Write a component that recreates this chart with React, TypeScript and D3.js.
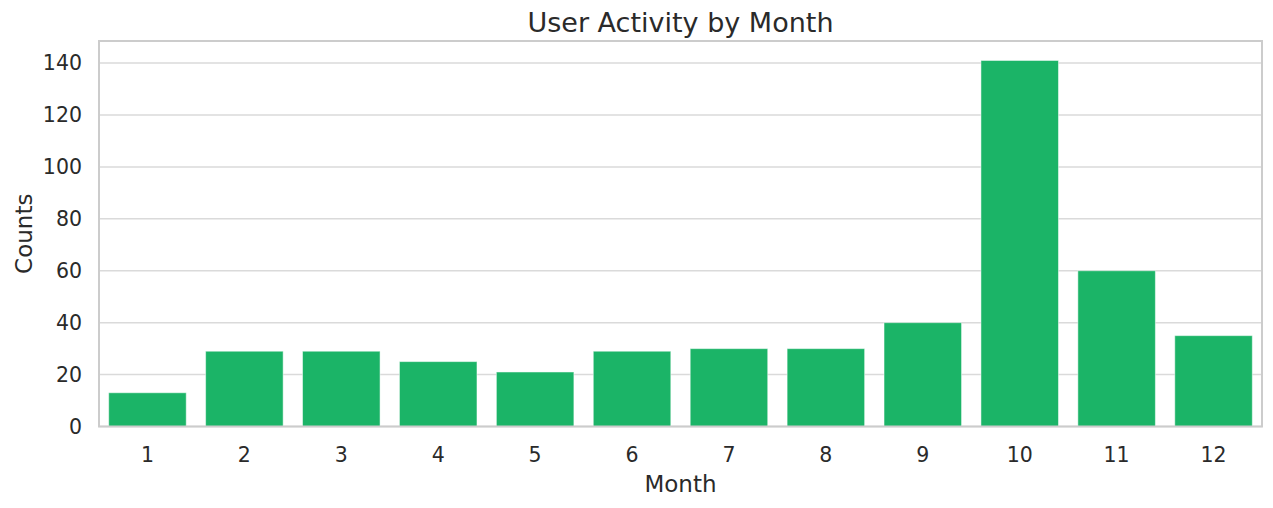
import React, { useEffect, useRef } from "react";
import * as d3 from "d3";

const months: string[] = ["1", "2", "3", "4", "5", "6", "7", "8", "9", "10", "11", "12"];
const counts: number[] = [13, 29, 29, 25, 21, 29, 30, 30, 40, 141, 60, 35];
const yTicks: number[] = [0, 20, 40, 60, 80, 100, 120, 140];

const App: React.FC = () => {
  const svgRef = useRef<SVGSVGElement>(null);

  useEffect(() => {
    const width = 1273;
    const height = 508;
    const margin = { top: 41, right: 11, bottom: 81.5, left: 99 };
    const innerW = width - margin.left - margin.right;
    const innerH = height - margin.top - margin.bottom;
    const font = "DejaVu Sans, sans-serif";
    const textColor = "#2a2a2a";

    const svg = d3.select(svgRef.current);
    svg.selectAll("*").remove();

    const g = svg
      .append("g")
      .attr("transform", `translate(${margin.left},${margin.top})`);

    // each month gets a full slot, bar is 80% of it
    const x = d3
      .scaleBand()
      .domain(months)
      .range([0, innerW])
      .paddingInner(0.2)
      .paddingOuter(0.1);
    const y = d3.scaleLinear().domain([0, 148.5]).range([innerH, 0]);

    // horizontal grid
    g.selectAll("line.grid")
      .data(yTicks)
      .enter()
      .append("line")
      .attr("class", "grid")
      .attr("x1", 0)
      .attr("x2", innerW)
      .attr("y1", (d) => y(d))
      .attr("y2", (d) => y(d))
      .attr("stroke", "#dadada")
      .attr("stroke-width", 1.5);

    // bars
    g.selectAll("rect.bar")
      .data(counts)
      .enter()
      .append("rect")
      .attr("class", "bar")
      .attr("x", (_, i) => x(months[i])!)
      .attr("y", (d) => y(d))
      .attr("width", x.bandwidth())
      .attr("height", (d) => innerH - y(d))
      .attr("fill", "#1bb467")
      .attr("stroke", "#ffffff")
      .attr("stroke-opacity", 0.5)
      .attr("stroke-width", 1);

    // frame
    g.append("rect")
      .attr("x", 0)
      .attr("y", 0)
      .attr("width", innerW)
      .attr("height", innerH)
      .attr("fill", "none")
      .attr("stroke", "#cccccc")
      .attr("stroke-width", 2);

    // y tick labels
    g.selectAll("text.ytick")
      .data(yTicks)
      .enter()
      .append("text")
      .attr("class", "ytick")
      .attr("x", -17)
      .attr("y", (d) => y(d))
      .attr("dy", "0.36em")
      .attr("text-anchor", "end")
      .attr("font-family", font)
      .attr("font-size", 20.5)
      .attr("fill", textColor)
      .text((d) => d);

    // x tick labels
    g.selectAll("text.xtick")
      .data(months)
      .enter()
      .append("text")
      .attr("class", "xtick")
      .attr("x", (d) => x(d)! + x.bandwidth() / 2)
      .attr("y", innerH + 35.8)
      .attr("text-anchor", "middle")
      .attr("font-family", font)
      .attr("font-size", 20.5)
      .attr("fill", textColor)
      .text((d) => d);

    // axis titles
    svg
      .append("text")
      .attr("x", margin.left + innerW / 2)
      .attr("y", 491.5)
      .attr("text-anchor", "middle")
      .attr("font-family", font)
      .attr("font-size", 23)
      .attr("fill", textColor)
      .text("Month");

    svg
      .append("text")
      .attr("transform", `translate(31.5,${margin.top + innerH / 2}) rotate(-90)`)
      .attr("text-anchor", "middle")
      .attr("font-family", font)
      .attr("font-size", 23)
      .attr("fill", textColor)
      .text("Counts");

    svg
      .append("text")
      .attr("x", margin.left + innerW / 2)
      .attr("y", 31.5)
      .attr("text-anchor", "middle")
      .attr("font-family", font)
      .attr("font-size", 27)
      .attr("fill", textColor)
      .text("User Activity by Month");
  }, []);

  return (
    <svg
      ref={svgRef}
      width={1273}
      height={508}
      style={{ position: "absolute", left: 0, top: 0, background: "#ffffff" }}
    ></svg>
  );
};

export default App;
